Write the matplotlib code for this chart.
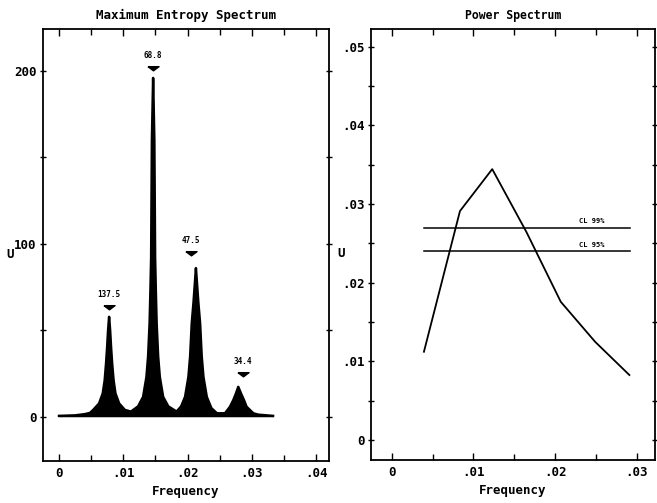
import matplotlib as mpl
import matplotlib.pyplot as plt
import numpy as np
from matplotlib.ticker import MultipleLocator, FuncFormatter

# Maximum entropy spectrum (frequency, value)
mem_freq = [0.0, 0.0025, 0.0040, 0.0048, 0.0053, 0.00623, 0.0068, 0.0071, 0.00732, 0.00748,
            0.00763, 0.00779, 0.00795, 0.0081, 0.00826, 0.00849, 0.00878, 0.00935, 0.01026, 0.0112,
            0.0123, 0.01308, 0.0136, 0.01386, 0.01409, 0.01422, 0.01433, 0.01445, 0.01464, 0.01483,
            0.01495, 0.01506, 0.01519, 0.01542, 0.01568, 0.0162, 0.0170, 0.01829,
            0.0190, 0.01961, 0.02013, 0.0204, 0.02065, 0.02092, 0.02115, 0.0213, 0.02145, 0.02168,
            0.02195, 0.0222, 0.02247, 0.02299, 0.0237, 0.02457,
            0.02582, 0.0266, 0.02711, 0.02753, 0.02789, 0.02831, 0.02878, 0.02918, 0.03023, 0.0310, 0.0333]
mem_value = [0.5, 0.8, 1.5, 2.2, 3.9, 7.7, 13.5, 21, 31, 40,
             50, 57.8, 50, 40, 31, 21, 13.5, 7.7, 3.9, 3.0,
             6, 11.5, 23, 35, 54, 73, 92, 160, 196, 160,
             92, 73, 54, 35, 23, 11.5, 6, 3.0,
             6, 11.5, 23, 35, 54, 66, 78, 86, 78, 66,
             54, 35, 23, 11.5, 5, 2.0,
             2.0, 5.8, 9.6, 13.5, 17.3, 13.5, 9.6, 5.8, 2.0, 1.2, 0.5]

# peak markers: period label, frequency, height of marker
peak_labels = ['137.5', '68.8', '47.5', '34.4']
peak_freq = [0.00779, 0.01464, 0.02052, 0.02857]
peak_mark = [64, 202.5, 95.4, 25.4]

# Power spectrum
ps_freq = [0.00395, 0.00836, 0.01231, 0.0165, 0.0207, 0.0249, 0.0291]
ps_value = [0.01122, 0.0291, 0.03443, 0.02643, 0.01757, 0.01249, 0.00826]
cl_names = ['CL 99%', 'CL 95%']
cl_levels = [0.027, 0.024]
cl_range = [0.004, 0.0292]

mpl.rcParams['font.family'] = 'DejaVu Sans Mono'
mpl.rcParams['font.weight'] = 'bold'

fig = plt.figure(figsize=(6.57, 5.03), dpi=100)
ax1 = fig.add_axes([0.0654, 0.0835, 0.4353, 0.8588])
ax2 = fig.add_axes([0.5647, 0.0855, 0.4323, 0.857])

def dotfmt(v, pos):
    if abs(v) < 1e-12:
        return '0'
    return ('%.2f' % v).lstrip('0')

# left: MEM spectrum
ax1.fill_between(mem_freq, 0, mem_value, color='black', lw=0)
ax1.plot(mem_freq, mem_value, color='black', lw=1.8)
m = [(-1, 0.15), (1, 0.15), (0, -0.6), (-1, 0.15)]  # flat arrowhead
for lab, f, h in zip(peak_labels, peak_freq, peak_mark):
    ax1.plot(f, h, marker=m, color='black', ms=8)
    ax1.text(f, h + 4, lab, ha='center', va='bottom', fontsize=5.5, fontweight='bold')
ax1.set_xlim(-0.0025, 0.042)
ax1.set_ylim(-25.6, 224.3)
ax1.xaxis.set_major_locator(MultipleLocator(0.01))
ax1.xaxis.set_minor_locator(MultipleLocator(0.005))
ax1.xaxis.set_major_formatter(FuncFormatter(dotfmt))
ax1.yaxis.set_major_locator(MultipleLocator(100))
ax1.yaxis.set_minor_locator(MultipleLocator(50))
ax1.set_title('Maximum Entropy Spectrum', fontsize=9, fontweight='bold', pad=7)
ax1.yaxis.set_label_coords(-0.115, 0.478)

# right: power spectrum
ax2.plot(ps_freq, ps_value, color='black', lw=1.3)
for name, lvl in zip(cl_names, cl_levels):
    ax2.plot(cl_range, [lvl, lvl], color='black', lw=1.1)
    ax2.text(0.0229, lvl + 0.0004, name, fontsize=5, fontweight='bold', va='bottom')
ax2.set_xlim(-0.00253, 0.03224)
ax2.set_ylim(-0.00254, 0.05225)
ax2.xaxis.set_major_locator(MultipleLocator(0.01))
ax2.xaxis.set_minor_locator(MultipleLocator(0.005))
ax2.xaxis.set_major_formatter(FuncFormatter(dotfmt))
ax2.yaxis.set_major_locator(MultipleLocator(0.01))
ax2.yaxis.set_minor_locator(MultipleLocator(0.005))
ax2.yaxis.set_major_formatter(FuncFormatter(dotfmt))
ax2.set_title('Power Spectrum', fontsize=8.3, fontweight='bold', pad=7)
ax2.yaxis.set_label_coords(-0.105, 0.478)

for ax in (ax1, ax2):
    for s in ax.spines.values():
        s.set_linewidth(1.3)
    ax.tick_params(axis='x', which='both', direction='in', top=True, labelsize=9, pad=4)
    ax.tick_params(axis='y', which='both', direction='inout', right=True, labelsize=9, pad=2)
    ax.tick_params(which='major', length=5, width=1)
    ax.tick_params(which='minor', length=4, width=1)
    ax.set_xlabel('Frequency', fontsize=9, fontweight='bold', labelpad=4)
    ax.set_ylabel('U', fontsize=9, fontweight='bold', rotation=0, va='center', ha='center')

fig.savefig('out.png', dpi=100)
